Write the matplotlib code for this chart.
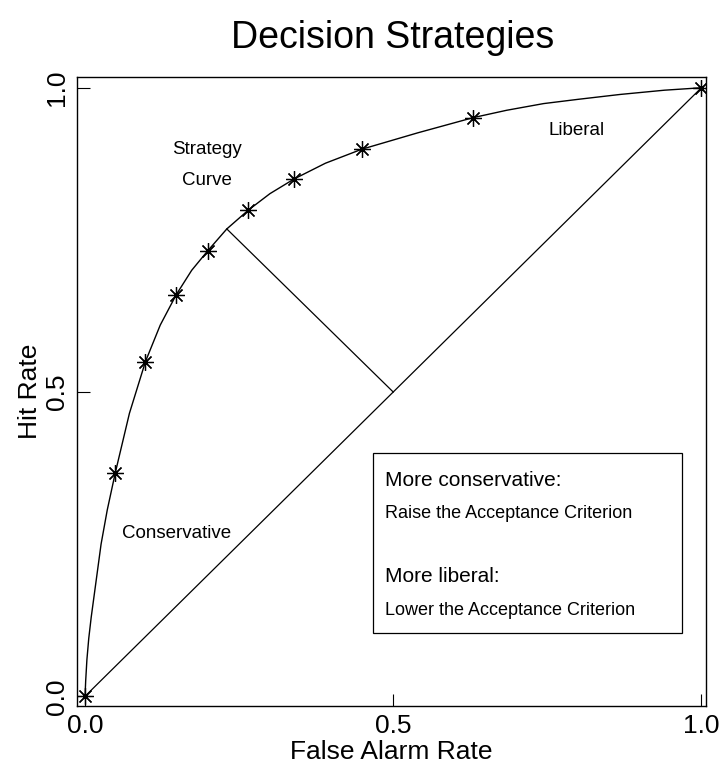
import matplotlib
matplotlib.use("Agg")
import matplotlib.pyplot as plt
from matplotlib.patches import Rectangle

plt.rcParams['font.family'] = ['Liberation Sans', 'DejaVu Sans']

# operating points on the strategy curve (false alarm rate, hit rate)
fa_pts = [0.0, 0.049, 0.098, 0.148, 0.199, 0.265, 0.339, 0.449, 0.630, 1.0]
hit_pts = [0.0, 0.367, 0.550, 0.660, 0.732, 0.799, 0.850, 0.899, 0.951, 1.0]

# points
curve_fa = [0.0, 0.001, 0.003, 0.006, 0.010, 0.018, 0.026, 0.036, 0.049, 0.072,
            0.098, 0.122, 0.148, 0.173, 0.199, 0.230, 0.265, 0.300, 0.339, 0.390,
            0.449, 0.540, 0.630, 0.684, 0.744, 0.800, 0.868, 0.940, 1.0]
curve_hit = [0.0, 0.025, 0.060, 0.095, 0.130, 0.190, 0.250, 0.306, 0.367, 0.465,
             0.550, 0.610, 0.660, 0.700, 0.732, 0.768, 0.799, 0.826, 0.850, 0.876,
             0.899, 0.926, 0.951, 0.963, 0.974, 0.981, 0.989, 0.996, 1.0]

# perpendicular from chance line to the curve
perp_fa = [0.5, 0.230]
perp_hit = [0.5, 0.768]

fig = plt.figure(figsize=(7.2, 7.72), dpi=100)
ax = fig.add_axes([0.107, 0.0855, 0.874, 0.815])

ax.plot(curve_fa, curve_hit, color='black', lw=1.0)
ax.plot(fa_pts, hit_pts, ls='none', marker=(8, 2, 0), ms=12, mew=0.9, color='black')
ax.plot([0, 1], [0, 1], color='black', lw=0.9)
ax.plot(perp_fa, perp_hit, color='black', lw=0.9)

ax.text(0.198, 0.898, 'Strategy', ha='center', va='center', fontsize=13.5)
ax.text(0.198, 0.848, 'Curve', ha='center', va='center', fontsize=13.5)
ax.text(0.797, 0.929, 'Liberal', ha='center', va='center', fontsize=13.5)
ax.text(0.148, 0.268, 'Conservative', ha='center', va='center', fontsize=13.5)

ax.add_patch(Rectangle((0.468, 0.104), 0.5, 0.296, fill=False, ec='black', lw=0.9))
ax.text(0.487, 0.355, 'More conservative:', ha='left', va='center', fontsize=15)
ax.text(0.487, 0.301, 'Raise the Acceptance Criterion', ha='left', va='center', fontsize=13)
ax.text(0.487, 0.196, 'More liberal:', ha='left', va='center', fontsize=15)
ax.text(0.487, 0.141, 'Lower the Acceptance Criterion', ha='left', va='center', fontsize=13)

ax.set_xlim(-0.013, 1.008)
ax.set_ylim(-0.016, 1.018)
ax.set_xticks([0, 0.5, 1.0])
ax.set_xticklabels(['0.0', '0.5', '1.0'])
ax.set_yticks([0, 0.5, 1.0])
ax.set_yticklabels(['0.0', '0.5', '1.0'], rotation=90, va='center')
ax.tick_params(direction='in', length=9, width=0.8, labelsize=19, pad=6)
for s in ax.spines.values():
    s.set_linewidth(1.0)

ax.set_xlabel('False Alarm Rate', fontsize=19, labelpad=1)
ax.set_ylabel('Hit Rate', fontsize=19, labelpad=2)
fig.text(0.545, 0.951, 'Decision Strategies', ha='center', va='center', fontsize=27)

fig.savefig('out.png', dpi=100)
